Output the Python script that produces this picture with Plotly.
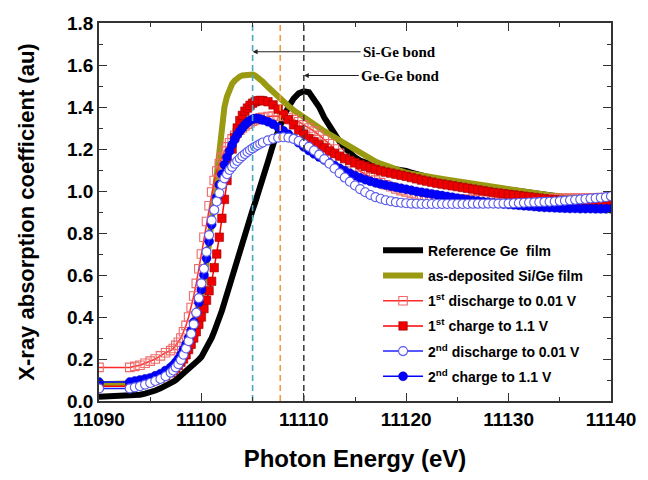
import plotly.graph_objects as go

# ---------------- data ----------------
ENERGY = [11090, 11093, 11093.5, 11094, 11094.5, 11095, 11095.5, 11096, 11096.5,
          11097, 11097.25, 11097.5, 11097.75, 11098, 11098.25, 11098.5, 11098.75,
          11099, 11099.25, 11099.5, 11099.75, 11100, 11100.25, 11100.5, 11100.75,
          11101, 11101.25, 11101.5, 11101.75, 11102, 11102.25, 11102.5, 11102.75,
          11103, 11103.25, 11103.5, 11103.75, 11104, 11104.25, 11104.5, 11104.75,
          11105, 11105.25, 11105.5, 11105.75, 11106,
          11106.5, 11107, 11107.5, 11108, 11108.5, 11109, 11109.5, 11110, 11110.5,
          11111, 11111.5, 11112, 11112.5, 11113, 11113.5, 11114, 11114.5, 11115,
          11115.5, 11116, 11116.5, 11117, 11117.5,
          11118, 11118.5, 11119, 11119.5, 11120, 11120.5, 11121, 11121.5, 11122, 11122.5,
          11123, 11123.5, 11124, 11124.5, 11125, 11125.5, 11126, 11126.5, 11127, 11127.5,
          11128, 11128.5, 11129, 11129.5, 11130, 11130.5, 11131, 11131.5, 11132, 11132.5,
          11133, 11133.5, 11134, 11134.5, 11135, 11135.5, 11136, 11136.5, 11137, 11137.5,
          11138, 11138.5, 11139, 11139.5, 11140]

REF_GE = [0.020, 0.025, 0.027, 0.030, 0.035, 0.040, 0.050, 0.060, 0.070,
          0.085, 0.092, 0.100, 0.110, 0.120, 0.130, 0.140, 0.150,
          0.160, 0.172, 0.185, 0.197, 0.210, 0.230, 0.250, 0.275,
          0.300, 0.330, 0.360, 0.395, 0.430, 0.470, 0.510, 0.555,
          0.600, 0.645, 0.690, 0.730, 0.770, 0.805, 0.840, 0.875,
          0.910, 0.945, 0.980, 1.020, 1.060,
          1.140, 1.220, 1.290, 1.350, 1.400, 1.440, 1.465, 1.475, 1.470,
          1.440, 1.400, 1.350, 1.310, 1.270, 1.235, 1.205, 1.180, 1.160,
          1.145, 1.135, 1.125, 1.120, 1.115,
          1.112, 1.110, 1.105, 1.100, 1.095, 1.088, 1.080, 1.072, 1.065, 1.060,
          1.055, 1.050, 1.047, 1.044, 1.040, 1.037, 1.034, 1.030, 1.027, 1.024,
          1.020, 1.017, 1.014, 1.010, 1.007, 1.004, 1.000, 0.997, 0.994, 0.990,
          0.986, 0.983, 0.980, 0.976, 0.972, 0.968, 0.965, 0.962, 0.959, 0.956,
          0.953, 0.951, 0.949, 0.947, 0.945]

AS_DEP = [0.080, 0.080, 0.085, 0.090, 0.100, 0.108, 0.118, 0.128, 0.138,
          0.150, 0.160, 0.175, 0.190, 0.210, 0.230, 0.255, 0.285,
          0.320, 0.365, 0.410, 0.450, 0.500, 0.570, 0.650, 0.750,
          0.860, 0.980, 1.100, 1.220, 1.320, 1.400, 1.450, 1.485,
          1.510, 1.525, 1.537, 1.545, 1.550, 1.553, 1.555, 1.556,
          1.555, 1.550, 1.542, 1.532, 1.520,
          1.495, 1.470, 1.445, 1.425, 1.405, 1.385, 1.367, 1.350, 1.335,
          1.318, 1.300, 1.285, 1.270, 1.255, 1.240, 1.225, 1.210, 1.195,
          1.180, 1.165, 1.152, 1.140, 1.130,
          1.120, 1.110, 1.100, 1.093, 1.087, 1.082, 1.077, 1.072, 1.068, 1.064,
          1.060, 1.057, 1.054, 1.050, 1.046, 1.042, 1.038, 1.034, 1.030, 1.026,
          1.022, 1.018, 1.014, 1.010, 1.006, 1.002, 0.998, 0.995, 0.992, 0.989,
          0.986, 0.983, 0.980, 0.978, 0.976, 0.974, 0.972, 0.970, 0.968, 0.966,
          0.964, 0.962, 0.960, 0.958, 0.956]

DISCH_1 = [0.160, 0.160, 0.165, 0.170, 0.180, 0.190, 0.200, 0.215, 0.230,
           0.240, 0.250, 0.265, 0.280, 0.300, 0.330, 0.360, 0.400,
           0.445, 0.500, 0.560, 0.630, 0.700, 0.780, 0.855, 0.930,
           0.995, 1.050, 1.095, 1.130, 1.160, 1.190, 1.210, 1.230,
           1.248, 1.265, 1.278, 1.290, 1.300, 1.310, 1.318, 1.325,
           1.332, 1.338, 1.343, 1.348, 1.351,
           1.355, 1.357, 1.357, 1.355, 1.350, 1.340, 1.330, 1.315, 1.300,
           1.285, 1.265, 1.245, 1.225, 1.200, 1.180, 1.155, 1.135, 1.115,
           1.095, 1.080, 1.065, 1.052, 1.040,
           1.030, 1.020, 1.010, 1.002, 0.995, 0.988, 0.982, 0.977, 0.973, 0.970,
           0.967, 0.965, 0.963, 0.962, 0.961, 0.960, 0.960, 0.960, 0.960, 0.960,
           0.960, 0.960, 0.960, 0.960, 0.960, 0.960, 0.961, 0.961, 0.962, 0.962,
           0.963, 0.963, 0.964, 0.964, 0.965, 0.965, 0.966, 0.966, 0.967, 0.967,
           0.968, 0.968, 0.969, 0.969, 0.970]

CHG_1 = [0.070, 0.070, 0.075, 0.080, 0.085, 0.090, 0.100, 0.110, 0.120,
         0.135, 0.145, 0.155, 0.170, 0.185, 0.200, 0.220, 0.245,
         0.270, 0.300, 0.330, 0.365, 0.400, 0.440, 0.480, 0.525,
         0.570, 0.635, 0.700, 0.780, 0.870, 0.960, 1.050, 1.130,
         1.200, 1.255, 1.300, 1.335, 1.360, 1.380, 1.395, 1.408,
         1.418, 1.425, 1.430, 1.431, 1.430,
         1.425, 1.410, 1.390, 1.365, 1.340, 1.315, 1.290, 1.270, 1.250,
         1.235, 1.220, 1.205, 1.190, 1.178, 1.166, 1.155, 1.145, 1.135,
         1.126, 1.118, 1.110, 1.103, 1.096,
         1.090, 1.085, 1.080, 1.075, 1.070, 1.064, 1.058, 1.052, 1.047, 1.042,
         1.037, 1.033, 1.029, 1.025, 1.021, 1.017, 1.013, 1.009, 1.005, 1.001,
         0.997, 0.993, 0.990, 0.987, 0.984, 0.981, 0.978, 0.975, 0.972, 0.969,
         0.966, 0.963, 0.960, 0.958, 0.956, 0.954, 0.952, 0.950, 0.948, 0.946,
         0.945, 0.944, 0.943, 0.942, 0.941]

DISCH_2 = [0.060, 0.060, 0.065, 0.070, 0.078, 0.086, 0.095, 0.105, 0.118,
           0.135, 0.145, 0.160, 0.175, 0.195, 0.220, 0.250, 0.285,
           0.320, 0.365, 0.420, 0.490, 0.560, 0.630, 0.710, 0.790,
           0.860, 0.910, 0.950, 0.990, 1.030, 1.060, 1.080, 1.100,
           1.115, 1.130, 1.143, 1.155, 1.166, 1.176, 1.186, 1.195,
           1.203, 1.211, 1.218, 1.225, 1.231,
           1.241, 1.249, 1.254, 1.256, 1.254, 1.248, 1.238, 1.225, 1.210,
           1.193, 1.173, 1.152, 1.130, 1.107, 1.085, 1.064, 1.044, 1.026,
           1.009, 0.994, 0.981, 0.971, 0.963,
           0.956, 0.951, 0.947, 0.944, 0.942, 0.940, 0.939, 0.938, 0.938, 0.938,
           0.938, 0.938, 0.938, 0.938, 0.938, 0.938, 0.938, 0.939, 0.939, 0.939,
           0.940, 0.940, 0.940, 0.941, 0.941, 0.942, 0.943, 0.944, 0.945, 0.946,
           0.947, 0.948, 0.949, 0.950, 0.952, 0.954, 0.956, 0.958, 0.960, 0.962,
           0.964, 0.966, 0.968, 0.971, 0.975]

CHG_2 = [0.090, 0.090, 0.095, 0.100, 0.105, 0.110, 0.120, 0.130, 0.145,
         0.160, 0.170, 0.185, 0.200, 0.220, 0.245, 0.270, 0.300,
         0.335, 0.375, 0.420, 0.470, 0.530, 0.600, 0.680, 0.760,
         0.840, 0.910, 0.970, 1.030, 1.080, 1.125, 1.160, 1.190,
         1.220, 1.245, 1.267, 1.285, 1.300, 1.315, 1.327, 1.336,
         1.342, 1.345, 1.345, 1.342, 1.338,
         1.330, 1.318, 1.303, 1.287, 1.270, 1.250, 1.230, 1.210, 1.193,
         1.177, 1.162, 1.148, 1.134, 1.121, 1.108, 1.096, 1.084, 1.073,
         1.063, 1.054, 1.046, 1.039, 1.033,
         1.028, 1.023, 1.018, 1.013, 1.008, 1.003, 0.998, 0.994, 0.990, 0.986,
         0.982, 0.978, 0.974, 0.970, 0.966, 0.962, 0.958, 0.955, 0.952, 0.949,
         0.946, 0.943, 0.940, 0.938, 0.936, 0.934, 0.932, 0.930, 0.928, 0.926,
         0.924, 0.922, 0.921, 0.920, 0.919, 0.918, 0.917, 0.917, 0.916, 0.916,
         0.916, 0.915, 0.915, 0.915, 0.915]

BOND_ENERGIES = [11105.0, 11107.7, 11110.0]
BOND_COLORS = ["#4aa8c4", "#f39a3c", "#404040"]
BOND_LABELS = ["Si-Ge bond", "Ge-Ge bond"]
BOND_LABEL_Y = [1.663, 1.55]
Y_RANGE = [0.0, 1.8]
X_RANGE = [11090, 11140]

NAMES = ["Reference Ge  film", "as-deposited Si/Ge film",
         "1<sup>st</sup> discharge to 0.01 V", "1<sup>st</sup> charge to 1.1 V",
         "2<sup>nd</sup> discharge to 0.01 V", "2<sup>nd</sup> charge to 1.1 V"]

for arr in (REF_GE, AS_DEP, DISCH_1, CHG_1, DISCH_2, CHG_2):
    assert len(arr) == len(ENERGY), (len(arr), len(ENERGY))

FONT = "Liberation Sans, Arial, sans-serif"
SERIF = "Liberation Serif, Times New Roman, serif"

fig = go.Figure()

# draw order (bottom -> top): black, olive, red open, red filled, blue filled, blue open
fig.add_trace(go.Scatter(x=ENERGY, y=REF_GE, name=NAMES[0], mode="lines",
                         line=dict(color="#000000", width=6),
                         legendrank=1, legendgroup="g1"))
fig.add_trace(go.Scatter(x=ENERGY, y=AS_DEP, name=NAMES[1], mode="lines",
                         line=dict(color="#9a9a12", width=6),
                         legendrank=2, legendgroup="g2"))
fig.add_trace(go.Scatter(x=ENERGY, y=DISCH_1, name=NAMES[2], mode="lines+markers",
                         line=dict(color="#ff2a2a", width=1.5),
                         marker=dict(symbol="square-open", size=8.5, color="#f06a6a",
                                     line=dict(width=1.1)),
                         legendrank=3, legendgroup="g3"))
fig.add_trace(go.Scatter(x=ENERGY, y=CHG_1, name=NAMES[3], mode="lines+markers",
                         line=dict(color="#ff0000", width=1.5),
                         marker=dict(symbol="square", size=8.5, color="#ee0000",
                                     line=dict(width=0.6, color="#a00000")),
                         legendrank=4, legendgroup="g4"))
fig.add_trace(go.Scatter(x=ENERGY, y=CHG_2, name=NAMES[5], mode="lines+markers",
                         line=dict(color="#0000ff", width=1.5),
                         marker=dict(symbol="circle", size=9, color="#0000ff",
                                     line=dict(width=0.5, color="#0000c0")),
                         legendrank=6, legendgroup="g6"))
fig.add_trace(go.Scatter(x=ENERGY, y=DISCH_2, name=NAMES[4], mode="lines+markers",
                         line=dict(color="#2020ff", width=1.5),
                         marker=dict(symbol="circle", size=9, color="white",
                                     line=dict(width=1.1, color="#5a5aee")),
                         legendrank=5, legendgroup="g5"))

for e, c in zip(BOND_ENERGIES, BOND_COLORS):
    fig.add_trace(go.Scatter(x=[e, e], y=Y_RANGE, mode="lines", showlegend=False,
                             hoverinfo="skip",
                             line=dict(color=c, width=1.6, dash="6px,4px")))

# bond annotations
for txt, e, yv, ax in zip(BOND_LABELS, [BOND_ENERGIES[0], BOND_ENERGIES[2]], BOND_LABEL_Y, [108, 55]):
    fig.add_annotation(x=e, y=yv, xref="x", yref="y",
                       text="<b>" + txt + "</b>", showarrow=True, arrowhead=2, arrowsize=1,
                       arrowwidth=1, arrowcolor="#222", ax=ax, ay=0, xanchor="left",
                       font=dict(family=SERIF, size=15, color="black"))

axis_common = dict(showline=True, linecolor="#333", linewidth=1.6, mirror="allticks",
                   ticks="inside", ticklen=8, tickwidth=1.4, tickcolor="#333",
                   showgrid=False, zeroline=False,
                   tickfont=dict(family=FONT, size=19, color="black", weight="bold"))

fig.update_xaxes(range=X_RANGE, dtick=10, tick0=11090, tickformat="d", **axis_common,
                 minor=dict(dtick=5, ticks="inside", ticklen=4, tickwidth=1.2, tickcolor="#333"),
                 title=dict(text="Photon Energy (eV)", standoff=22,
                            font=dict(family=FONT, size=24, color="black", weight="bold")))
fig.update_yaxes(range=Y_RANGE, dtick=0.2, tickformat=".1f", **axis_common,
                 minor=dict(dtick=0.1, ticks="inside", ticklen=4, tickwidth=1.2, tickcolor="#333"),
                 title=dict(text="X-ray absorption coefficient (au)", standoff=26,
                            font=dict(family=FONT, size=22, color="black", weight="bold")))

fig.update_layout(
    width=648, height=480,
    margin=dict(l=99, r=32, t=23, b=77),
    plot_bgcolor="white", paper_bgcolor="white",
    legend=dict(x=0.545, y=0.44, xanchor="left", yanchor="top",
                bgcolor="rgba(0,0,0,0)", borderwidth=0,
                font=dict(family=FONT, size=14, color="black", weight="bold"),
                tracegroupgap=4, itemwidth=40),
    showlegend=True,
)

fig.write_html("out.html")
